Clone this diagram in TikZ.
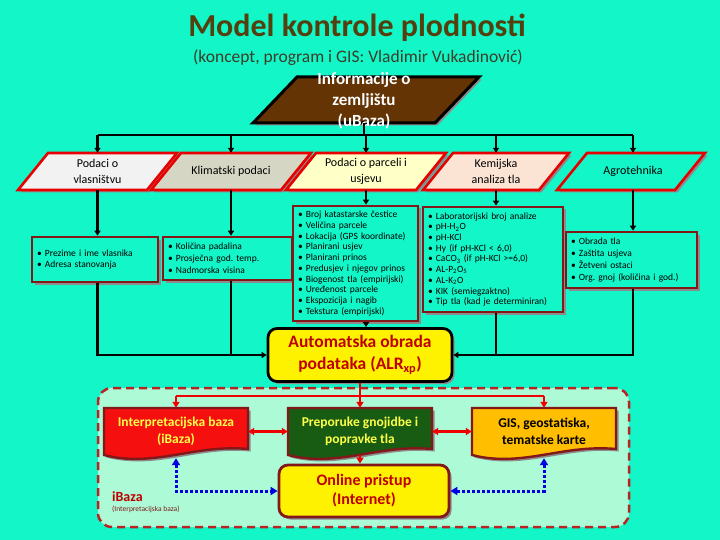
\documentclass[tikz,border=0pt]{standalone}
\usepackage{fontspec}
\setmainfont{Carlito}
\usetikzlibrary{arrows.meta,positioning,shadows}

\definecolor{bgaqua}{RGB}{18,246,200}
\definecolor{mint}{RGB}{172,250,214}
\definecolor{titleol}{RGB}{84,64,14}
\definecolor{subgray}{RGB}{60,60,40}
\definecolor{soilbrown}{RGB}{100,52,4}
\definecolor{parared}{RGB}{232,0,0}
\definecolor{boxred}{RGB}{130,24,24}
\definecolor{regionred}{RGB}{185,35,35}
\definecolor{autotext}{RGB}{190,0,0}
\definecolor{linkred}{RGB}{240,0,0}
\definecolor{ired}{RGB}{245,15,15}
\definecolor{igreen}{RGB}{24,92,20}
\definecolor{iorange}{RGB}{255,190,0}
\definecolor{iyellow}{RGB}{255,255,70}
\definecolor{dotblue}{RGB}{0,0,225}
\definecolor{ownfill}{RGB}{242,242,242}
\definecolor{climfill}{RGB}{214,214,196}
\definecolor{plotfill}{RGB}{255,255,200}
\definecolor{chemfill}{RGB}{252,228,212}

\tikzset{
  shade gray/.style={drop shadow={shadow xshift=2.5pt, shadow yshift=-2.5pt, fill=black!45, opacity=1}},
  paraline/.style={draw=parared, line width=2.6pt, line join=miter, shade gray},
  paratext/.style={minimum height=37pt, inner sep=0pt, align=center,
    font=\fontsize{12}{16}\selectfont},
  listbox/.style={rectangle, draw=boxred, fill=bgaqua, line width=2.6pt,
    inner xsep=5pt, inner ysep=2pt, align=left,
    font=\fontsize{9.5}{10.7}\selectfont, shade gray},
  procbox/.style={rectangle, rounded corners=9pt, fill=yellow, line width=2.8pt,
    align=center, text=autotext, shade gray},
  docshape/.style={draw=boxred, line width=2.4pt, shade gray},
  doctext/.style={minimum width=144pt, minimum height=47pt, inner sep=0pt,
    align=center, font=\bfseries\fontsize{13.5}{16.5}\selectfont},
  link/.style={draw=black, line width=2.2pt},
  arr/.style={link, -{Triangle[length=5pt,width=6pt]}},
  rlink/.style={draw=linkred, line width=2.6pt},
  rarr/.style={rlink, -{Triangle[length=6pt,width=7pt]}},
  rboth/.style={rlink, {Triangle[length=6pt,width=7pt]}-{Triangle[length=6pt,width=7pt]}},
  bluedots/.style={draw=dotblue, line width=3pt, dash pattern=on 3pt off 2pt,
    {Triangle[length=7pt,width=8pt]}-{Triangle[length=7pt,width=8pt]}}
}

\begin{document}
\frenchspacing
\begin{tikzpicture}[x=1pt, y=-1pt]
  \useasboundingbox (0,0) rectangle (720,540);
  \fill[bgaqua] (0,0) rectangle (720,540);

  \node[font=\bfseries\fontsize{32}{36}\selectfont, text=titleol] (title) at (357,28) {Model kontrole plodnosti};
  \node[font=\fontsize{17.5}{20}\selectfont, text=subgray] (subtitle) at (358,58) {(koncept, program i GIS: Vladimir Vukadinović)};

  % uBaza
  \draw[draw=black, line width=3pt, line join=miter, fill=soilbrown, shade gray]
    (253,123) -- ++(182,0) -- ++(44,-46) -- ++(-182,0) -- cycle;
  \node[text=white, inner xsep=0pt, inner ysep=-6pt, font=\bfseries\fontsize{17}{21}\selectfont, align=center]
    (soil) at (364,101) {Informacije o\\zemljištu\\(uBaza)};

  % ulazni podaci
  \foreach \cx/\w/\c in {97.5/159/ownfill,231/160/climfill,366/160/plotfill,496/146/chemfill,631/148/bgaqua}
    \draw[paraline, fill=\c] (\cx-\w/2,190) -- ++(\w-30,0) -- ++(30,-37) -- ++(30-\w,0) -- cycle;

  \node[paratext] (own) at (97.5,171.5) {Podaci o\\vlasništvu};
  \node[paratext] (clim) at (231,171.5) {Klimatski podaci};
  \node[paratext] (plot) at (366,171.5) {Podaci o parceli i\\usjevu};
  \node[paratext] (chem) at (496,171.5) {Kemijska\\analiza tla};
  \node[paratext] (agro) at (633,171.5) {Agrotehnika};

  \coordinate (topbus) at (soil.south |- 0,135);
  \draw[link] (soil.south) -- (topbus);
  \draw[link] (topbus -| own) -- (topbus -| agro);
  \foreach \p in {own,clim,plot,chem,agro}
    \draw[arr] (topbus -| \p) -- (\p.north);

  \node[listbox, text width=116pt, minimum height=45pt] (ownlist) at (95,259.5)
    {\textbullet~Prezime i ime vlasnika\\\textbullet~Adresa stanovanja};
  \node[listbox, text width=119pt, minimum height=43pt, font=\fontsize{9.5}{12}\selectfont] (climlist) at (227.5,258.5)
    {\textbullet~Količina padalina\\\textbullet~Prosječna god. temp.\\\textbullet~Nadmorska visina};
  \node[listbox, text width=115pt, minimum height=115pt] (plotlist) at (355.5,263.5)
    {\textbullet~Broj katastarske čestice\\\textbullet~Veličina parcele\\\textbullet~Lokacija (GPS koordinate)\\
     \textbullet~Planirani usjev\\\textbullet~Planirani prinos\\\textbullet~Predusjev i njegov prinos\\
     \textbullet~Biogenost tla (empirijski)\\\textbullet~Uređenost parcele\\\textbullet~Ekspozicija i nagib\\
     \textbullet~Tekstura (empirijski)};
  \node[listbox, text width=130pt, minimum height=105pt] (chemlist) at (493,259.5)
    {\textbullet~Laboratorijski broj analize\\\textbullet~pH-H\textsubscript{2}O\\\textbullet~pH-KCl\\
     \textbullet~Hy (if pH-KCl < 6,0)\\\textbullet~CaCO\textsubscript{3} (if pH-KCl >=6,0)\\
     \textbullet~AL-P\textsubscript{2}O\textsubscript{5}\\\textbullet~AL-K\textsubscript{2}O\\
     \textbullet~KIK (semiegzaktno)\\\textbullet~Tip tla (kad je determiniran)};
  \node[listbox, text width=121pt, minimum height=56pt, font=\fontsize{9.5}{12.3}\selectfont] (agrolist) at (631.5,260)
    {\textbullet~Obrada tla\\\textbullet~Zaštita usjeva\\\textbullet~Žetveni ostaci\\\textbullet~Org. gnoj (količina i god.)};

  \foreach \p/\l in {own/ownlist,clim/climlist,plot/plotlist,chem/chemlist,agro/agrolist}
    \draw[arr] (\p.south) -- (\p.south |- \l.north);

  % obrada
  \node[procbox, draw=black, minimum width=184pt, minimum height=53pt,
    font=\bfseries\fontsize{17.5}{22}\selectfont] (auto) at (360,355) {Automatska obrada\\podataka (ALR\textsubscript{xp})};

  \draw[arr] (own |- ownlist.south) |- (auto.west);
  \draw[link] (clim |- climlist.south) -- (clim |- auto.west);
  \draw[arr] (agro |- agrolist.south) |- (auto.east);
  \draw[link] (chem |- chemlist.south) -- (chem |- auto.east);
  \draw[arr] (plot |- plotlist.south) -- (plot |- auto.north);

  % iBaza
  \node[rectangle, rounded corners=14pt, draw=regionred, fill=mint, line width=2.5pt,
    dash pattern=on 8pt off 5pt, minimum width=531pt, minimum height=139pt] (ireg) at (363.5,457.5) {};

  \foreach \x/\c in {104/ired,288/igreen,472/iorange}
    \draw[docshape, fill=\c] (\x,408) -- ++(144,0) -- ++(0,41)
      .. controls +(-54,-5) and +(50,13) .. ++(-144,6) -- cycle;

  \node[doctext, text=iyellow] (ibase) at (176,431.5) {Interpretacijska baza\\(iBaza)};
  \node[doctext, text=iyellow] (advice) at (360,431.5) {Preporuke gnojidbe i\\popravke tla};
  \node[doctext, text=black] (gis) at (544,431.5) {GIS, geostatiska,\\tematske karte};

  \coordinate (redbus) at ([yshift=-13pt]auto.south);
  \draw[rlink] (auto.south) -- (redbus);
  \draw[rlink] (redbus -| ibase) -- (redbus -| gis);
  \foreach \b in {ibase,advice,gis}
    \draw[rarr] (redbus -| \b) -- (\b.north);

  \draw[rboth] (ibase.east) -- (advice.west);
  \draw[rboth] (advice.east) -- (gis.west);

  \node[procbox, draw=boxred, minimum width=170pt, minimum height=52pt,
    font=\bfseries\fontsize{16}{19}\selectfont] (online) at (364,491) {Online pristup\\(Internet)};
  \draw[rarr] (advice.south) -- (advice.south |- online.north);

  \draw[bluedots] ([yshift=-3pt]ibase.south) |- (online.west);
  \draw[bluedots] ([yshift=-3pt]gis.south) |- (online.east);

  \node[anchor=west, inner sep=0pt, text=autotext, font=\bfseries\fontsize{14}{16}\selectfont] (ilabel) at (112,497) {iBaza};
  \node[below=4pt of ilabel.south west, anchor=north west, inner sep=0pt, text=boxred,
    font=\fontsize{7.5}{8}\selectfont] (ilabelsub) {(Interpretacijska baza)};
\end{tikzpicture}
\end{document}
